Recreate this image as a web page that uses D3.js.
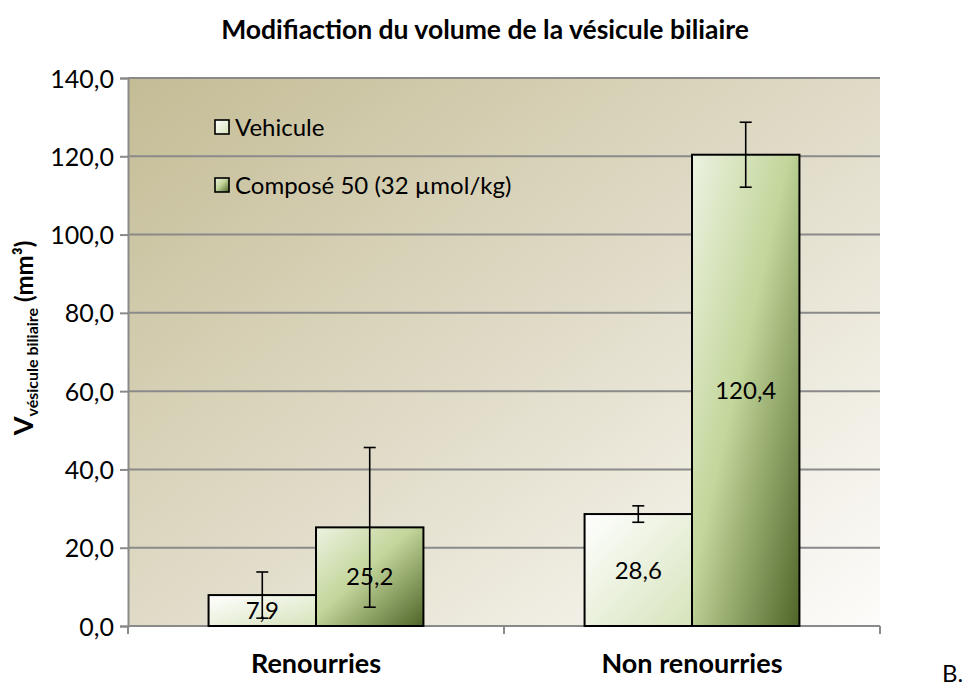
<!DOCTYPE html>
<html>
<head>
<meta charset="utf-8">
<script src="https://cdn.jsdelivr.net/npm/d3@7"></script>
<style>
  html, body { margin: 0; padding: 0; background: #fff; }
  svg text { font-family: Lato, "Open Sans", sans-serif; fill: #000; }
</style>
</head>
<body>
<svg id="chart" width="968" height="687"></svg>
<script>
// Gallbladder volume per condition and treatment group
const categories = ["Renourries", "Non renourries"];
const seriesNames = ["Vehicule", "Composé 50 (32 µmol/kg)"];
const vehiculeValues = [7.9, 28.6];
const vehiculeErrors = [5.9, 2.1];
const composeValues = [25.2, 120.4];
const composeErrors = [20.4, 8.3];
const yTicks = [0, 20, 40, 60, 80, 100, 120, 140];

const W = 968, H = 687;
const margin = { top: 78, right: 88, bottom: 60, left: 128 };
const innerW = W - margin.left - margin.right;
const innerH = H - margin.top - margin.bottom - 1;

const svg = d3.select("#chart");
const defs = svg.append("defs");

function linGrad(id, stops) {
  const g = defs.append("linearGradient").attr("id", id)
    .attr("x1", 0).attr("y1", 0).attr("x2", 1).attr("y2", 1);
  stops.forEach(([o, c]) => g.append("stop").attr("offset", o).attr("stop-color", c));
}
linGrad("bgGrad", [[0, "#c4bc95"], [0.5, "#e0dbc7"], [1, "#fdfcfa"]]);
linGrad("vehGrad", [[0, "#ffffff"], [1, "#d6e3bb"]]);
linGrad("compGrad", [[0, "#ecf2e1"], [0.45, "#c3d69b"], [1, "#4f6528"]]);

const g = svg.append("g").attr("transform", `translate(${margin.left},${margin.top})`);

const x0 = d3.scaleBand().domain(categories).range([0, innerW]).paddingInner(0).paddingOuter(0);
// gap width of 150% between clusters
const barW = x0.bandwidth() / (2 + 1.5);
const y = d3.scaleLinear().domain([0, 140]).range([innerH, 0]);

// plot area background
g.append("rect").attr("x", 0).attr("y", 0).attr("width", innerW).attr("height", innerH)
  .attr("fill", "url(#bgGrad)");

// horizontal gridlines
g.append("g").selectAll("line").data(yTicks.filter(t => t > 0)).join("line")
  .attr("x1", 0).attr("x2", innerW)
  .attr("y1", d => y(d)).attr("y2", d => y(d))
  .attr("stroke", "#8a8a8a").attr("stroke-width", 2);

// y axis
const yAxis = g.append("g").call(
  d3.axisLeft(y).tickValues(yTicks).tickSize(8).tickPadding(6)
    .tickFormat(d => d3.format(".1f")(d).replace(".", ","))
);
yAxis.select(".domain").attr("stroke", "#8a8a8a").attr("stroke-width", 2);
yAxis.selectAll(".tick line").attr("stroke", "#8a8a8a").attr("stroke-width", 2);
yAxis.selectAll(".tick text").attr("font-size", 25).attr("dy", "0.36em");

// x axis (ticks on cluster boundaries)
const xAxisG = g.append("g").attr("transform", `translate(0,${innerH})`);
xAxisG.append("line").attr("x1", 0).attr("x2", innerW).attr("stroke", "#8a8a8a").attr("stroke-width", 2);
const boundaries = [0, ...categories.map(c => x0(c) + x0.bandwidth())];
xAxisG.selectAll("line.tk").data(boundaries).join("line").attr("class", "tk")
  .attr("x1", d => d).attr("x2", d => d).attr("y1", 0).attr("y2", 8)
  .attr("stroke", "#8a8a8a").attr("stroke-width", 2);
xAxisG.selectAll("text.cat").data(categories).join("text").attr("class", "cat")
  .attr("x", d => x0(d) + x0.bandwidth() / 2).attr("y", 47)
  .attr("text-anchor", "middle").attr("font-weight", "bold").attr("font-size", 27)
  .text(d => d);

// bars
const series = [
  { name: seriesNames[0], values: vehiculeValues, errors: vehiculeErrors, fill: "url(#vehGrad)", offset: -1 },
  { name: seriesNames[1], values: composeValues, errors: composeErrors, fill: "url(#compGrad)", offset: 0 }
];

series.forEach(s => {
  const data = categories.map((c, i) => ({ c, v: s.values[i], e: s.errors[i] }));
  const bx = d => x0(d.c) + x0.bandwidth() / 2 + s.offset * barW;
  const grp = g.append("g");
  grp.selectAll("rect").data(data).join("rect")
    .attr("x", bx).attr("y", d => y(d.v))
    .attr("width", barW).attr("height", d => innerH - y(d.v))
    .attr("fill", s.fill).attr("stroke", "#000").attr("stroke-width", 2);
  // value labels centred inside bars
  grp.selectAll("text").data(data).join("text")
    .attr("x", d => bx(d) + barW / 2).attr("y", d => y(d.v / 2))
    .attr("dy", "0.36em").attr("text-anchor", "middle").attr("font-size", 24)
    .text(d => d3.format(".1f")(d.v).replace(".", ","));
  // error bars
  const eb = grp.selectAll("g.err").data(data).join("g").attr("class", "err");
  const cx = d => bx(d) + barW / 2;
  eb.append("line").attr("x1", cx).attr("x2", cx)
    .attr("y1", d => y(d.v + d.e)).attr("y2", d => y(d.v - d.e));
  eb.append("line").attr("x1", d => cx(d) - 6).attr("x2", d => cx(d) + 6)
    .attr("y1", d => y(d.v + d.e)).attr("y2", d => y(d.v + d.e));
  eb.append("line").attr("x1", d => cx(d) - 6).attr("x2", d => cx(d) + 6)
    .attr("y1", d => y(d.v - d.e)).attr("y2", d => y(d.v - d.e));
  eb.selectAll("line").attr("stroke", "#000").attr("stroke-width", 1.6);
});

// legend
const legend = g.append("g").attr("transform", "translate(87,42)");
series.forEach((s, i) => {
  const row = legend.append("g").attr("transform", `translate(0,${i * 58})`);
  row.append("rect").attr("x", 0).attr("y", 0).attr("width", 14).attr("height", 14)
    .attr("fill", s.fill).attr("stroke", "#000").attr("stroke-width", 1.6);
  row.append("text").attr("x", 20).attr("y", 7).attr("dy", "0.36em")
    .attr("font-size", 24).text(s.name);
});

// title
svg.append("text").attr("x", 485).attr("y", 39).attr("text-anchor", "middle")
  .attr("font-weight", "bold").attr("font-size", 26.5)
  .text("Modifiaction du volume de la vésicule biliaire");

// y axis title with subscript
const yt = svg.append("text")
  .attr("transform", `translate(33,${margin.top + innerH / 2 - 14}) rotate(-90)`)
  .attr("text-anchor", "middle").attr("font-weight", "bold");
yt.append("tspan").attr("font-size", 27).text("V");
yt.append("tspan").attr("font-size", 16).attr("dy", 5).text("vésicule biliaire");
yt.append("tspan").attr("font-size", 24).attr("dy", -5).text(" (mm³)");

// panel letter
svg.append("text").attr("x", 942).attr("y", 687 - 5).attr("font-size", 24).text("B.");
</script>
</body>
</html>
